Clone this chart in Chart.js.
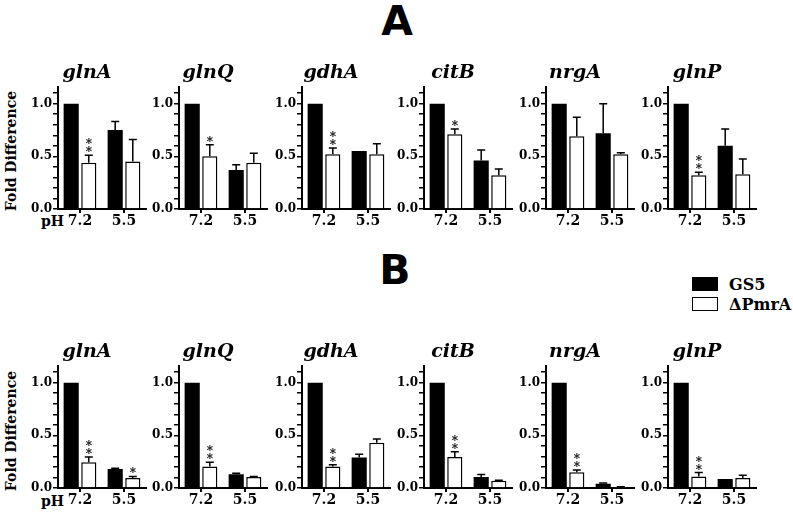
<!DOCTYPE html>
<html>
<head>
<meta charset="utf-8">
<script src="https://cdn.jsdelivr.net/npm/chart.js@4.4.0/dist/chart.umd.min.js"></script>
<style>
  body { margin: 0; background: #fff; }
  #fig { position: relative; width: 793px; height: 520px; overflow: hidden; font-family: "DejaVu Serif", serif; font-weight: bold; color: #000; }
  #fig canvas { position: absolute; }
  .lab { position: absolute; white-space: nowrap; }
  .big { font-family: "DejaVu Sans", sans-serif; font-size: 41px; transform: translate(-50%, -50%); }
  .ylab { font-size: 14px; transform: translate(-50%, -50%) rotate(-90deg); }
  .ph { font-size: 14px; transform: translateY(-50%); }
  .sw { position: absolute; width: 26px; height: 14px; border: 1px solid #000; box-sizing: border-box; }
  .leg { font-size: 16px; transform: translateY(-50%); }
</style>
</head>
<body>
<div id="fig">
  <div class="lab big" style="left:397px;top:21px">A</div>
  <div class="lab big" style="left:395px;top:270px">B</div>
  <div class="lab ylab" style="left:11px;top:151px">Fold Difference</div>
  <div class="lab ylab" style="left:11px;top:431px">Fold Difference</div>
  <div class="lab ph" style="left:41px;top:221px">pH</div>
  <div class="lab ph" style="left:41px;top:501px">pH</div>
  <div class="sw" style="left:692px;top:277px;background:#000"></div>
  <div class="lab leg" style="left:729px;top:284px">GS5</div>
  <div class="sw" style="left:692px;top:297px;background:#fff"></div>
  <div class="lab leg" style="left:729px;top:304px">ΔPmrA</div>
</div>
<script>
// genes and pH categories
const genes = ['glnA', 'glnQ', 'gdhA', 'citB', 'nrgA', 'glnP'];
const phLabels = ['7.2', '5.5'];
const yTicks = [0, 0.1, 0.2, 0.3, 0.4, 0.5, 0.6, 0.7, 0.8, 0.9, 1.0, 1.1];
const yLabelled = [0, 0.5, 1.0];
const yMax = 1.16;

// Panel A  [pH 7.2, pH 5.5] per gene
const gs5A = [[1, 0.75], [1, 0.37], [1, 0.55], [1, 0.46], [1, 0.72], [1, 0.60]];
const gs5ErrA = [[0, 0.08], [0, 0.05], [0, 0], [0, 0.10], [0, 0.28], [0, 0.16]];
const pmrA_A = [[0.44, 0.45], [0.50, 0.44], [0.52, 0.52], [0.71, 0.32], [0.69, 0.52], [0.32, 0.33]];
const pmrErrA = [[0.07, 0.21], [0.11, 0.09], [0.06, 0.10], [0.05, 0.06], [0.18, 0.015], [0.03, 0.145]];
const sigA = [['**', ''], ['*', ''], ['**', ''], ['*', ''], ['', ''], ['**', '']];

// Panel B
const gs5B = [[1, 0.18], [1, 0.13], [1, 0.29], [1, 0.105], [1, 0.04], [1, 0.085]];
const gs5ErrB = [[0, 0.007], [0, 0.01], [0, 0.03], [0, 0.022], [0, 0.007], [0, 0]];
const pmrB = [[0.245, 0.095], [0.205, 0.105], [0.205, 0.43], [0.295, 0.07], [0.15, 0.01], [0.11, 0.095]];
const pmrErrB = [[0.05, 0.015], [0.04, 0.004], [0.015, 0.035], [0.05, 0.004], [0.02, 0.002], [0.037, 0.025]];
const sigB = [['**', '*'], ['**', ''], ['**', ''], ['**', ''], ['**', ''], ['**', '']];

const serif = '"DejaVu Serif", serif';

// upper error bars + significance stars
const errPlugin = {
  id: 'errStars',
  afterDatasetsDraw(chart) {
    const ctx = chart.ctx;
    const y = chart.scales.y;
    const stars = chart.options.plugins.errStars.sig;
    chart.data.datasets.forEach((ds, di) => {
      const meta = chart.getDatasetMeta(di);
      meta.data.forEach((bar, j) => {
        const v = ds.data[j];
        const e = ds.errs[j];
        const top = y.getPixelForValue(v + e);
        ctx.save();
        ctx.strokeStyle = '#000';
        ctx.lineWidth = 1.5;
        if (e > 0) {
          ctx.beginPath();
          ctx.moveTo(bar.x, y.getPixelForValue(v));
          ctx.lineTo(bar.x, top);
          ctx.moveTo(bar.x - 4, top);
          ctx.lineTo(bar.x + 4, top);
          ctx.stroke();
        }
        if (di === 1 && stars[j]) {
          ctx.fillStyle = '#000';
          ctx.font = 'bold 12px ' + serif;
          ctx.textAlign = 'center';
          ctx.textBaseline = 'alphabetic';
          for (let k = 0; k < stars[j].length; k++) {
            ctx.fillText('*', bar.x, top + 1 - k * 8);
          }
        }
        ctx.restore();
      });
    });
  }
};

const axisLefts = [28, 149, 272, 394, 516, 638];

function makePanel(top, i, gs5, gs5Err, pmr, pmrErr, sig) {
  const c = document.createElement('canvas');
  c.width = 120;
  c.height = 177;
  c.style.left = axisLefts[i] + 'px';
  c.style.top = top + 'px';
  document.getElementById('fig').appendChild(c);
  new Chart(c.getContext('2d'), {
    type: 'bar',
    data: {
      labels: phLabels,
      datasets: [
        { label: 'GS5', data: gs5[i], errs: gs5Err[i], backgroundColor: '#000', borderColor: '#000', borderWidth: 0,
          categoryPercentage: 0.8, barPercentage: 0.86 },
        { label: 'ΔPmrA', data: pmr[i], errs: pmrErr[i], backgroundColor: '#fff', borderColor: '#000', borderWidth: 1.5,
          categoryPercentage: 0.8, barPercentage: 0.86 }
      ]
    },
    options: {
      responsive: false,
      animation: false,
      devicePixelRatio: 1,
      layout: { padding: { left: 0, right: 2, top: 0, bottom: 0 } },
      plugins: {
        legend: { display: false },
        tooltip: { enabled: false },
        title: {
          display: true,
          text: genes[i],
          color: '#000',
          font: { family: serif, size: 19, weight: 'bold', style: 'italic' },
          padding: { top: 0, bottom: 2 }
        },
        errStars: { sig: sig[i] }
      },
      scales: {
        x: {
          grid: { display: true, drawOnChartArea: false, offset: false, color: '#000', lineWidth: 2, tickLength: 4 },
          border: { color: '#000', width: 2 },
          ticks: { color: '#000', padding: 0, font: { family: serif, size: 14, weight: 'bold' } },
          afterFit(s) { s.height = 30; }
        },
        y: {
          min: 0,
          max: yMax,
          afterBuildTicks(s) { s.ticks = yTicks.map(v => ({ value: v })); },
          grid: { display: true, drawOnChartArea: false, color: '#000', lineWidth: 1.5, tickLength: 5 },
          border: { color: '#000', width: 2 },
          ticks: {
            color: '#000', padding: 1, autoSkip: false,
            font: { family: serif, size: 12, weight: 'bold' },
            callback: v => yLabelled.some(t => Math.abs(t - v) < 1e-6) ? v.toFixed(1) : ''
          },
          afterFit(s) { s.width = 30; }
        }
      }
    },
    plugins: [errPlugin]
  });
}

genes.forEach((g, i) => {
  makePanel(62, i, gs5A, gs5ErrA, pmrA_A, pmrErrA, sigA);
  makePanel(341, i, gs5B, gs5ErrB, pmrB, pmrErrB, sigB);
});
</script>
</body>
</html>
